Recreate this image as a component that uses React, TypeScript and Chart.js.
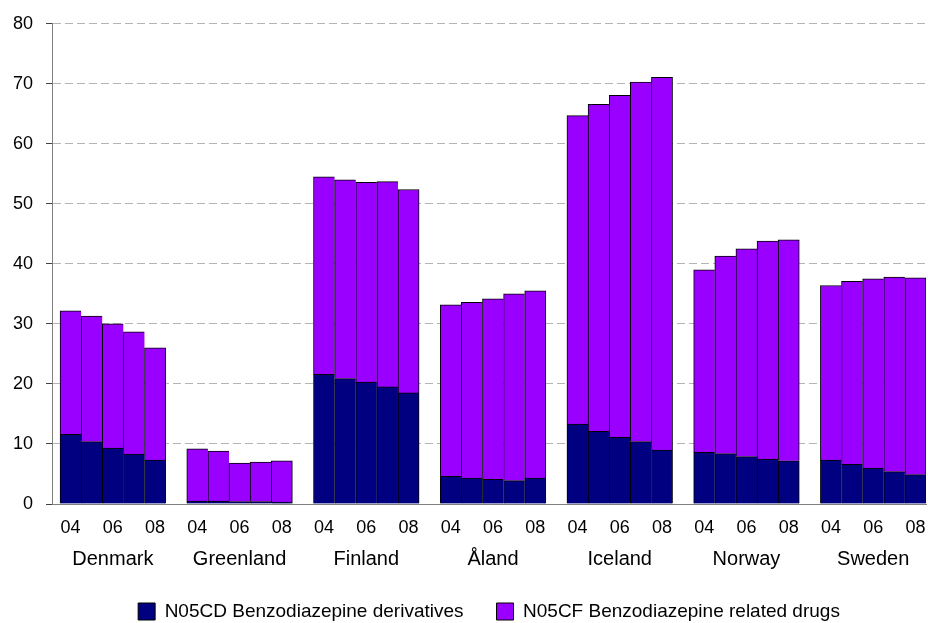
import React, { useEffect, useRef } from 'react';
import { Chart, registerables } from 'chart.js';

Chart.register(...registerables);

const FONT = "'Liberation Sans', Arial, Helvetica, sans-serif";

const countries = ['Denmark', 'Greenland', 'Finland', 'Åland', 'Iceland', 'Norway', 'Sweden'];
const years = ['04', '05', '06', '07', '08'];
const yearTickLabels = ['04', '06', '08'];
const yTicks = [0, 10, 20, 30, 40, 50, 60, 70, 80];

// N05CD Benzodiazepine derivatives (per country, years 04..08)
const n05cd = [
  11.6, 10.4, 9.3, 8.3, 7.3,
  0.5, 0.5, 0.4, 0.4, 0.3,
  21.6, 20.9, 20.3, 19.5, 18.5,
  4.6, 4.3, 4.1, 3.9, 4.3,
  13.3, 12.1, 11.1, 10.4, 9.0,
  8.6, 8.4, 7.9, 7.5, 7.2,
  7.3, 6.6, 6.0, 5.4, 4.9,
];

// N05CF Benzodiazepine related drugs (per country, years 04..08)
const n05cf = [
  20.6, 20.9, 20.7, 20.4, 18.7,
  8.7, 8.3, 6.4, 6.6, 6.9,
  32.9, 33.1, 33.3, 34.2, 33.9,
  28.6, 29.3, 30.1, 31.1, 31.2,
  51.4, 54.5, 57.0, 59.9, 62.1,
  30.4, 32.9, 34.6, 36.3, 36.8,
  29.1, 30.5, 31.5, 32.4, 32.8,
];

const seriesNames = ['N05CD Benzodiazepine derivatives', 'N05CF Benzodiazepine related drugs'];
const seriesColors = ['#000080', '#9900FF'];

const perGroup = years.length;
const slot = perGroup + 1; // one empty slot between countries
const posOf = (i: number) => Math.floor(i / perGroup) * slot + (i % perGroup);

const W = 928;
const H = 623;
const CANVAS_H = 631;

export default function App() {
  const ref = useRef<HTMLCanvasElement | null>(null);

  useEffect(() => {
    if (!ref.current) return;
    const toPoints = (arr: number[]) => arr.map((v, i) => ({ x: posOf(i), y: v }));
    const borderW = (ctx: any) => ({
      top: 1,
      left: 1,
      right: ctx.dataIndex % perGroup === perGroup - 1 ? 1 : 0,
      bottom: 0,
    });

    const yearTickPos: number[] = [];
    const yearTickText: Record<number, string> = {};
    const countryTickPos: number[] = [];
    const countryTickText: Record<number, string> = {};
    countries.forEach((c, g) => {
      yearTickLabels.forEach((lbl) => {
        const p = g * slot + years.indexOf(lbl);
        yearTickPos.push(p);
        yearTickText[p] = lbl;
      });
      const mid = g * slot + (perGroup - 1) / 2;
      countryTickPos.push(mid);
      countryTickText[mid] = c;
    });

    const xMin = -0.88;
    const xMax = (countries.length - 1) * slot + perGroup - 0.5;

    const chart = new Chart(ref.current, {
      type: 'bar',
      data: {
        datasets: [
          {
            label: seriesNames[0],
            data: toPoints(n05cd),
            backgroundColor: seriesColors[0],
            borderColor: '#000000',
            borderWidth: borderW,
            xAxisID: 'x',
          },
          {
            label: seriesNames[1],
            data: toPoints(n05cf),
            backgroundColor: seriesColors[1],
            borderColor: '#000000',
            borderWidth: borderW,
            xAxisID: 'x',
          },
        ],
      } as any,
      options: {
        animation: false,
        responsive: false,
        maintainAspectRatio: false,
        datasets: { bar: { barPercentage: 1, categoryPercentage: 1 } } as any,
        layout: { padding: { left: 0, right: 2, top: 10.7, bottom: 0 } },
        plugins: {
          tooltip: { enabled: false },
          legend: {
            position: 'bottom',
            fullSize: false,
            labels: {
              font: { family: FONT, size: 19 },
              color: '#000',
              boxWidth: 17,
              boxHeight: 17,
              padding: 33,
              generateLabels: (ch: any) =>
                Chart.defaults.plugins.legend.labels
                  .generateLabels(ch)
                  .map((l: any) => ({ ...l, lineWidth: 1, strokeStyle: '#000' })),
            },
          },
        },
        scales: {
          x: {
            type: 'linear',
            position: 'bottom',
            stacked: true,
            offset: false,
            min: xMin,
            max: xMax,
            grid: { display: false, offset: false, drawTicks: true, tickLength: 13 },
            border: { display: true, color: '#808080', width: 1 },
            afterBuildTicks: (axis: any) => {
              axis.ticks = yearTickPos.map((v) => ({ value: v }));
            },
            ticks: {
              autoSkip: false,
              maxRotation: 0,
              padding: 0,
              color: '#000',
              font: { family: FONT, size: 18 },
              callback: (v: any) => yearTickText[v as number] ?? '',
            },
          },
          x2: {
            type: 'linear',
            position: 'bottom',
            offset: false,
            min: xMin,
            max: xMax,
            grid: { display: false, offset: false, drawTicks: true, tickLength: 10.4 },
            border: { display: false },
            afterBuildTicks: (axis: any) => {
              axis.ticks = countryTickPos.map((v) => ({ value: v }));
            },
            ticks: {
              autoSkip: false,
              maxRotation: 0,
              padding: 0,
              color: '#000',
              font: { family: FONT, size: 20, lineHeight: 1 },
              callback: (v: any) => countryTickText[v as number] ?? '',
            },
          },
          y: {
            type: 'linear',
            stacked: true,
            min: yTicks[0],
            max: yTicks[yTicks.length - 1],
            afterBuildTicks: (axis: any) => {
              axis.ticks = yTicks.map((v) => ({ value: v }));
            },
            grid: {
              color: '#b4b4b4',
              lineWidth: 1,
              drawTicks: true,
              tickLength: 6,
              tickColor: '#404040',
              tickWidth: 1,
            },
            border: { display: true, color: '#808080', width: 1, dash: [8, 4] },
            ticks: {
              padding: 13,
              color: '#000',
              font: { family: FONT, size: 18 },
            },
          },
        },
      } as any,
    });
    return () => chart.destroy();
  }, []);

  return (
    <div style={{ position: 'absolute', left: 0, top: 0, width: W, height: H, overflow: 'hidden', background: '#fff' }}>
      <canvas ref={ref} width={W} height={CANVAS_H} style={{ display: 'block', width: W, height: CANVAS_H }} />
    </div>
  );
}
